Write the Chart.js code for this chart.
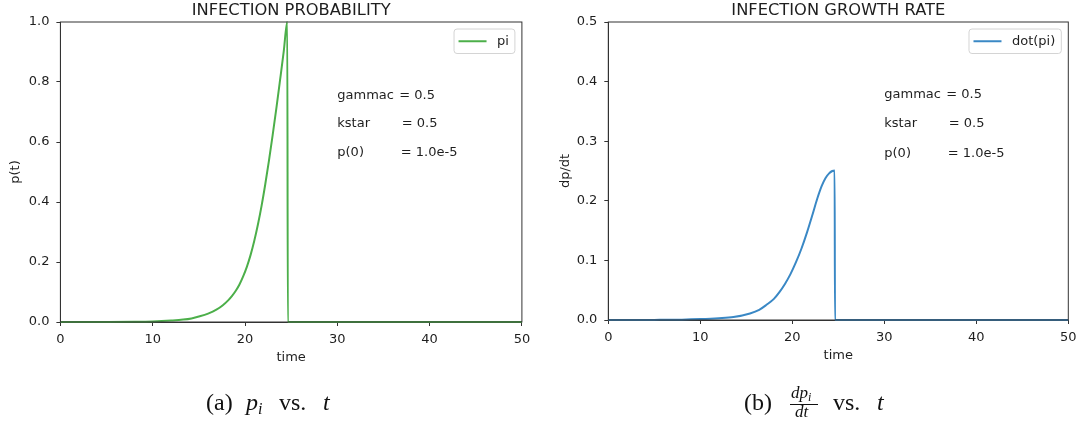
<!DOCTYPE html>
<html>
<head>
<meta charset="utf-8">
<script src="https://cdn.jsdelivr.net/npm/chart.js@4.4.0/dist/chart.umd.min.js"></script>
<style>
html,body{margin:0;padding:0;background:#fff;}
#wrap{position:relative;width:1077px;height:425px;overflow:hidden;background:#fff;}
#c1{position:absolute;left:0;top:0;width:540px;height:380px;}
#c2{position:absolute;left:540px;top:0;width:567px;height:380px;}
#cap{position:absolute;left:0;top:0;pointer-events:none;}
</style>
</head>
<body>
<div id="wrap">
<canvas id="c1" width="540" height="380"></canvas>
<canvas id="c2" width="567" height="380"></canvas>
<svg id="cap" width="1077" height="425" font-family="'Liberation Serif', 'DejaVu Serif', serif" fill="#111">
  <text x="206" y="410" font-size="24">(a)</text>
  <text x="246" y="410" font-size="24" font-style="italic">p<tspan font-size="16" dy="4">i</tspan></text>
  <text x="279" y="410" font-size="24">vs.</text>
  <text x="323" y="410" font-size="24" font-style="italic">t</text>

  <text x="744" y="410" font-size="24">(b)</text>
  <text x="791" y="398" font-size="17" font-style="italic">dp<tspan font-size="12" dy="3">i</tspan></text>
  <line x1="790" y1="404.5" x2="818" y2="404.5" stroke="#111" stroke-width="1"/>
  <text x="795" y="417" font-size="17" font-style="italic">dt</text>
  <text x="833" y="410" font-size="24">vs.</text>
  <text x="877" y="410" font-size="24" font-style="italic">t</text>
</svg>
</div>
<script>
// ---------- data ----------
const timeTicks = [0, 10, 20, 30, 40, 50];

const piTime   = [0, 5, 8, 10, 12, 13.3, 14.2, 15.1, 16.0, 16.9, 17.6, 18.2, 18.6, 19.0, 19.4, 19.8, 20.2, 20.6, 21.0, 21.4, 21.8, 22.2, 22.6, 23.0, 23.4, 23.8, 24.2, 24.58, 24.64, 50];
const piValues = [0.00001, 0.0002, 0.0008, 0.002, 0.005, 0.008, 0.012, 0.019, 0.028, 0.041, 0.056, 0.073, 0.087, 0.104, 0.125, 0.152, 0.184, 0.223, 0.27, 0.325, 0.388, 0.46, 0.539, 0.624, 0.713, 0.807, 0.903, 1.0, 0, 0];

const rateTime   = [0, 5, 8, 10, 12, 13.6, 15.4, 16.4, 17.2, 18.0, 18.6, 19.2, 19.8, 20.4, 21.0, 21.6, 22.2, 22.7, 23.2, 23.6, 24.0, 24.35, 24.6, 24.64, 50];
const rateValues = [0.00001, 0.0002, 0.0006, 0.0015, 0.003, 0.005, 0.011, 0.017, 0.0255, 0.0355, 0.0468, 0.0605, 0.077, 0.097, 0.12, 0.147, 0.177, 0.203, 0.225, 0.238, 0.246, 0.25, 0.251, 0, 0];

const piTicks   = [0.0, 0.2, 0.4, 0.6, 0.8, 1.0];
const rateTicks = [0.0, 0.1, 0.2, 0.3, 0.4, 0.5];

const paramLabels = ['gammac', 'kstar', 'p(0)'];
const paramValues = ['= 0.5', '= 0.5', '= 1.0e-5'];

const titles  = ['INFECTION PROBABILITY', 'INFECTION GROWTH RATE'];
const yTitles = ['p(t)', 'dp/dt'];
const xTitle  = 'time';
const legendLabels = ['pi', 'dot(pi)'];
// ---------------------------------------------------

const FONT = '"DejaVu Sans", sans-serif';
const TXT = '#1e1e1e';
const SPINE = '#333333';

const panelPlugin = {
  id: 'panel',
  afterDraw(chart, args, o) {
    const {ctx, chartArea: a, scales: {x, y}} = chart;
    ctx.save();
    // frame (all four spines)
    ctx.strokeStyle = SPINE;
    ctx.lineWidth = 1;
    ctx.strokeRect(a.left, a.top, a.right - a.left, a.bottom - a.top);
    // title
    ctx.fillStyle = TXT;
    ctx.font = '16.3px ' + FONT;
    ctx.textAlign = 'center';
    ctx.textBaseline = 'alphabetic';
    ctx.fillText(o.title, (a.left + a.right) / 2 + o.titleDx, 15);
    // parameter notes
    ctx.font = '13px ' + FONT;
    ctx.textAlign = 'left';
    const nx = x.getPixelForValue(o.noteX);
    paramLabels.forEach((lab, i) => {
      const ny = y.getPixelForValue(o.noteY[i]);
      ctx.fillText(lab, nx, ny);
      ctx.fillText(paramValues[i], nx + o.eqOffset[i], ny);
    });
    // legend
    const label = chart.data.datasets[0].label;
    const tw = ctx.measureText(label).width;
    const bw = 4.5 + 28 + 10.5 + tw + 6;
    const bh = 24.5;
    const bx = a.right - 7 - bw;
    const by = a.top + 7;
    ctx.beginPath();
    if (ctx.roundRect) ctx.roundRect(bx, by, bw, bh, 3); else ctx.rect(bx, by, bw, bh);
    ctx.fillStyle = 'rgba(255,255,255,0.85)';
    ctx.fill();
    ctx.strokeStyle = '#d4d4d4';
    ctx.lineWidth = 1;
    ctx.stroke();
    const ly = by + bh / 2;
    ctx.beginPath();
    ctx.moveTo(bx + 4.5, ly);
    ctx.lineTo(bx + 32.5, ly);
    ctx.strokeStyle = chart.data.datasets[0].borderColor;
    ctx.lineWidth = 2;
    ctx.stroke();
    ctx.fillStyle = TXT;
    ctx.textBaseline = 'middle';
    ctx.fillText(label, bx + 43, ly + 0.5);
    ctx.restore();
  }
};

function makeChart(id, cfg) {
  const pts = cfg.xs.map((t, i) => ({x: t, y: cfg.ys[i]}));
  return new Chart(document.getElementById(id), {
    type: 'line',
    data: {
      datasets: [{
        label: cfg.legend,
        data: pts,
        borderColor: cfg.color,
        borderWidth: 2,
        pointRadius: 0,
        fill: false,
        cubicInterpolationMode: 'monotone',
        clip: 2
      }]
    },
    options: {
      responsive: false,
      animation: false,
      events: [],
      layout: {padding: {left: 0, right: cfg.padRight, top: 22, bottom: 0}},
      plugins: {
        legend: {display: false},
        tooltip: {enabled: false},
        title: {display: false},
        panel: {
          title: cfg.title,
          titleDx: 0,
          noteX: 30,
          noteY: cfg.noteY,
          eqOffset: [62, 64.5, 63.5]
        }
      },
      scales: {
        x: {
          type: 'linear',
          min: 0, max: 50,
          afterBuildTicks: s => { s.ticks = timeTicks.map(v => ({value: v})); },
          afterFit: s => { s.height = cfg.xHeight; },
          grid: {display: true, drawOnChartArea: false, drawTicks: true, tickLength: 4, tickColor: SPINE, tickWidth: 1},
          border: {display: true, color: SPINE, width: 1},
          ticks: {
            color: TXT, font: {family: FONT, size: 13}, padding: cfg.xTickPad,
            maxRotation: 0, autoSkip: false,
            callback: v => String(v)
          },
          title: {display: true, text: xTitle, color: TXT, font: {family: FONT, size: 13}, padding: {top: 0, bottom: cfg.xTitlePad}}
        },
        y: {
          type: 'linear',
          min: 0, max: cfg.yMax,
          afterBuildTicks: s => { s.ticks = cfg.yTicks.map(v => ({value: v})); },
          afterFit: s => { s.width = cfg.yWidth; },
          grid: {display: true, drawOnChartArea: false, drawTicks: true, tickLength: 4, tickColor: SPINE, tickWidth: 1},
          border: {display: true, color: SPINE, width: 1},
          ticks: {
            color: TXT, font: {family: FONT, size: 13}, padding: 7, autoSkip: false,
            callback: v => Number(v).toFixed(1)
          },
          title: {display: true, text: cfg.yTitle, color: TXT, font: {family: FONT, size: 13}, padding: {top: cfg.yTitlePad, bottom: 0}}
        }
      }
    },
    plugins: [panelPlugin]
  });
}

makeChart('c1', {
  xs: piTime, ys: piValues, legend: legendLabels[0], color: '#4caf4a',
  title: titles[0], yTitle: yTitles[0], yMax: 1.0, yTicks: piTicks,
  padRight: 18.1, yWidth: 60.4, xHeight: 58, xTickPad: 6, xTitlePad: 14.5, yTitlePad: 7.7,
  noteY: [0.745, 0.65, 0.555]
});

makeChart('c2', {
  xs: rateTime, ys: rateValues, legend: legendLabels[1], color: '#3a88c5',
  title: titles[1], yTitle: yTitles[1], yMax: 0.5, yTicks: rateTicks,
  padRight: 38.7, yWidth: 68.3, xHeight: 60, xTickPad: 5.5, xTitlePad: 16.5, yTitlePad: 17.9,
  noteY: [0.372, 0.323, 0.274]
});
</script>
</body>
</html>
